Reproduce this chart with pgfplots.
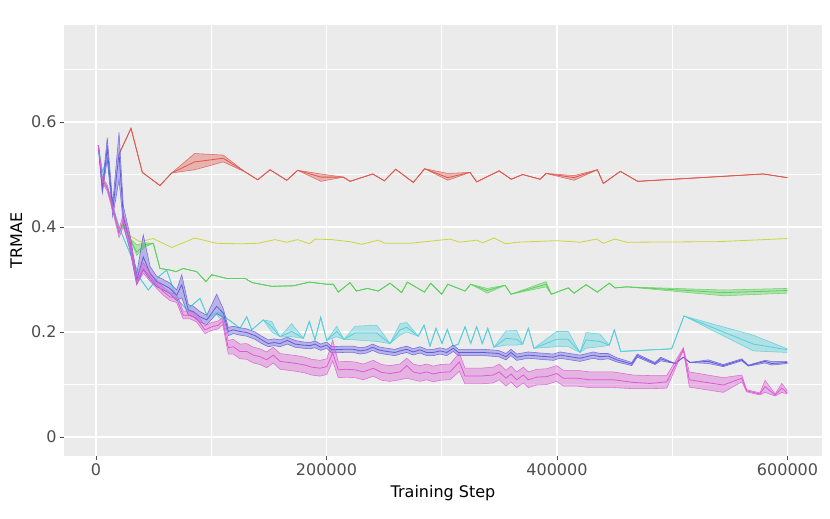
\documentclass[border=0pt]{standalone}
\usepackage{pgfplots}
\pgfplotsset{compat=1.18}
\usepackage{pgfplotstable}
\usepgfplotslibrary{fillbetween}
\usepackage{fontspec}
\setmainfont{DejaVu Sans}
\definecolor{cred}{RGB}{222,88,78}
\definecolor{cyel}{RGB}{202,214,60}
\definecolor{cgrn}{RGB}{90,210,90}
\definecolor{ccyn}{RGB}{85,207,220}
\definecolor{cblu}{RGB}{100,90,222}
\definecolor{cmag}{RGB}{220,90,212}
\definecolor{bgc}{RGB}{235,235,235}
\definecolor{tickc}{RGB}{77,77,77}

\pgfplotstableread{
x m lo hi
20200 0.540 0.540 0.540
30400 0.588 0.588 0.588
40200 0.504 0.504 0.504
55500 0.479 0.479 0.479
65700 0.503 0.503 0.503
85600 0.524 0.509 0.540
110400 0.531 0.524 0.537
129300 0.505 0.505 0.505
140300 0.490 0.490 0.490
151000 0.509 0.509 0.509
165500 0.489 0.489 0.489
175000 0.508 0.508 0.508
195200 0.495 0.487 0.501
214600 0.495 0.495 0.495
220400 0.487 0.487 0.487
240100 0.501 0.501 0.501
250200 0.488 0.488 0.488
260000 0.510 0.510 0.510
275300 0.485 0.485 0.485
285200 0.511 0.511 0.511
305200 0.494 0.489 0.502
324500 0.504 0.504 0.504
330300 0.486 0.486 0.486
349700 0.507 0.507 0.507
360300 0.491 0.491 0.491
370200 0.500 0.500 0.500
385300 0.491 0.491 0.491
390500 0.502 0.502 0.502
414800 0.494 0.489 0.498
435000 0.509 0.509 0.509
440200 0.483 0.483 0.483
454900 0.506 0.506 0.506
470000 0.487 0.487 0.487
579000 0.501 0.501 0.501
599800 0.494 0.494 0.494
}\tred

\pgfplotstableread{
x m
2000 0.556
5500 0.490
9800 0.475
14500 0.436
20000 0.390
23700 0.405
29500 0.383
38200 0.372
49700 0.378
65700 0.361
85600 0.379
104700 0.369
124900 0.368
140800 0.369
155300 0.376
165500 0.371
175000 0.376
185100 0.368
190300 0.377
204500 0.376
220400 0.372
230500 0.367
244900 0.375
250800 0.369
272500 0.369
307200 0.377
315800 0.371
330300 0.375
335500 0.370
345300 0.379
355500 0.368
365000 0.371
399700 0.374
419900 0.371
434400 0.377
440200 0.369
450300 0.377
460500 0.371
538600 0.372
599800 0.378
}\tyel

\pgfplotstableread{
x m lo hi
2000 0.556 0.556 0.556
5500 0.490 0.490 0.490
9800 0.475 0.475 0.475
14500 0.436 0.436 0.436
20000 0.390 0.390 0.390
23700 0.405 0.405 0.405
29500 0.378 0.378 0.378
35300 0.352 0.346 0.366
42500 0.366 0.362 0.370
49700 0.369 0.369 0.369
55500 0.321 0.321 0.321
64200 0.318 0.318 0.318
69400 0.315 0.315 0.315
75700 0.321 0.321 0.321
87400 0.315 0.315 0.315
95400 0.296 0.296 0.296
100400 0.309 0.309 0.309
113400 0.302 0.302 0.302
129300 0.302 0.302 0.302
135600 0.294 0.294 0.294
152500 0.287 0.287 0.287
171200 0.288 0.288 0.288
185100 0.295 0.295 0.295
200200 0.291 0.291 0.291
205900 0.291 0.291 0.291
210200 0.276 0.276 0.276
220400 0.294 0.294 0.294
225900 0.278 0.278 0.278
235400 0.283 0.283 0.283
244900 0.278 0.278 0.278
255100 0.293 0.293 0.293
265200 0.275 0.275 0.275
270100 0.295 0.295 0.295
284900 0.276 0.276 0.276
290400 0.293 0.293 0.293
300000 0.272 0.272 0.272
305200 0.291 0.291 0.291
320200 0.278 0.278 0.278
325100 0.291 0.291 0.291
339500 0.279 0.274 0.283
354900 0.289 0.289 0.289
360100 0.272 0.272 0.272
390500 0.291 0.286 0.296
395100 0.272 0.272 0.272
409800 0.284 0.284 0.284
414800 0.274 0.274 0.274
425200 0.290 0.290 0.290
435000 0.276 0.276 0.276
445400 0.293 0.293 0.293
450300 0.284 0.284 0.284
460500 0.286 0.286 0.286
544300 0.275 0.269 0.280
599800 0.279 0.274 0.283
}\tgrn

\pgfplotstableread{
x m lo hi
2000 0.556 0.556 0.556
5500 0.505 0.505 0.505
9800 0.530 0.530 0.530
14500 0.440 0.440 0.440
20000 0.400 0.400 0.400
23700 0.380 0.380 0.380
29500 0.350 0.350 0.350
35300 0.320 0.320 0.320
38200 0.302 0.302 0.302
45400 0.280 0.280 0.280
54100 0.305 0.305 0.305
61300 0.318 0.318 0.318
70000 0.264 0.264 0.264
78700 0.242 0.242 0.242
90200 0.264 0.264 0.264
97400 0.226 0.226 0.226
103300 0.236 0.236 0.236
109100 0.231 0.223 0.239
113400 0.226 0.226 0.226
119100 0.217 0.217 0.217
124900 0.207 0.207 0.207
130800 0.229 0.229 0.229
135100 0.204 0.204 0.204
145200 0.223 0.223 0.223
152500 0.210 0.200 0.220
159700 0.191 0.191 0.191
169800 0.201 0.191 0.216
179900 0.188 0.188 0.188
185100 0.220 0.220 0.220
190000 0.185 0.185 0.185
195000 0.228 0.228 0.228
200200 0.184 0.184 0.184
208900 0.201 0.191 0.211
215200 0.186 0.186 0.186
224700 0.198 0.185 0.211
243600 0.198 0.182 0.213
255100 0.178 0.178 0.178
263800 0.204 0.194 0.216
269600 0.209 0.200 0.218
279700 0.192 0.192 0.192
284600 0.213 0.213 0.213
289800 0.173 0.173 0.173
295000 0.207 0.207 0.207
300200 0.178 0.178 0.178
304800 0.205 0.205 0.205
310000 0.173 0.173 0.173
314400 0.177 0.177 0.177
320200 0.210 0.210 0.210
325100 0.178 0.178 0.178
330300 0.210 0.210 0.210
335200 0.178 0.178 0.178
339900 0.207 0.207 0.207
345300 0.171 0.171 0.171
355700 0.188 0.175 0.202
365000 0.186 0.175 0.203
370200 0.177 0.177 0.177
375100 0.207 0.207 0.207
380000 0.169 0.169 0.169
399700 0.186 0.172 0.201
409800 0.186 0.172 0.201
420000 0.161 0.161 0.161
425200 0.185 0.169 0.199
437300 0.182 0.172 0.196
445400 0.175 0.175 0.175
449700 0.204 0.204 0.204
455300 0.163 0.163 0.163
499500 0.168 0.168 0.168
510200 0.2305 0.2305 0.2305
570300 0.177 0.164 0.194
599800 0.166 0.161 0.168
}\tcyn

\pgfplotstableread{
x m lo hi
2000 0.556 0.556 0.556
5500 0.470 0.465 0.478
9800 0.550 0.530 0.570
14500 0.432 0.420 0.445
20000 0.540 0.490 0.580
23700 0.420 0.405 0.440
29500 0.370 0.355 0.385
35300 0.299 0.290 0.310
41000 0.343 0.318 0.385
46900 0.312 0.300 0.325
52700 0.296 0.286 0.306
58400 0.290 0.280 0.300
64200 0.283 0.273 0.293
70000 0.270 0.260 0.280
74400 0.290 0.265 0.309
80100 0.242 0.232 0.252
84400 0.239 0.229 0.249
90200 0.229 0.219 0.239
96100 0.223 0.214 0.232
104700 0.249 0.235 0.272
110500 0.236 0.228 0.244
114800 0.201 0.193 0.209
119100 0.204 0.197 0.211
124900 0.201 0.194 0.208
130800 0.199 0.192 0.206
138000 0.193 0.186 0.200
143800 0.185 0.178 0.192
149500 0.178 0.172 0.185
154400 0.180 0.174 0.187
159700 0.178 0.172 0.185
166000 0.184 0.177 0.190
172700 0.177 0.171 0.184
179900 0.175 0.169 0.181
185700 0.174 0.168 0.180
190000 0.177 0.170 0.183
195000 0.171 0.165 0.177
200200 0.175 0.169 0.181
204500 0.166 0.160 0.172
214600 0.167 0.161 0.173
223300 0.167 0.161 0.173
229100 0.164 0.158 0.170
234900 0.166 0.160 0.172
240100 0.171 0.165 0.177
245000 0.166 0.160 0.172
252200 0.163 0.157 0.169
259400 0.161 0.155 0.167
263800 0.164 0.158 0.170
269600 0.167 0.161 0.173
275300 0.162 0.156 0.168
281100 0.166 0.160 0.172
286900 0.161 0.155 0.167
292700 0.161 0.155 0.167
298500 0.164 0.158 0.170
304300 0.161 0.155 0.167
310000 0.169 0.163 0.175
314400 0.161 0.155 0.167
324500 0.161 0.155 0.167
336100 0.161 0.155 0.167
349100 0.159 0.153 0.165
355700 0.153 0.147 0.159
360100 0.161 0.155 0.167
365000 0.152 0.146 0.158
375100 0.156 0.150 0.162
385300 0.154 0.148 0.160
396800 0.152 0.146 0.158
402600 0.156 0.150 0.162
408400 0.154 0.148 0.160
420000 0.150 0.144 0.156
431500 0.156 0.150 0.162
437300 0.153 0.147 0.159
444500 0.154 0.149 0.159
451800 0.147 0.143 0.151
464800 0.139 0.136 0.142
469700 0.155 0.152 0.158
485000 0.140 0.138 0.142
490000 0.149 0.145 0.152
502400 0.140 0.140 0.140
509600 0.152 0.152 0.152
515400 0.142 0.142 0.142
531300 0.144 0.140 0.147
544300 0.136 0.134 0.138
560300 0.147 0.145 0.149
566000 0.136 0.135 0.137
580500 0.144 0.141 0.146
586300 0.140 0.137 0.144
599800 0.142 0.140 0.144
}\tblu

\pgfplotstableread{
x m lo hi
2000 0.556 0.556 0.556
5500 0.490 0.485 0.495
9800 0.474 0.468 0.480
14500 0.436 0.430 0.442
20000 0.388 0.380 0.396
23700 0.413 0.400 0.425
29500 0.370 0.360 0.380
35300 0.296 0.290 0.305
41000 0.321 0.312 0.332
46900 0.305 0.297 0.313
52700 0.290 0.283 0.298
58400 0.277 0.270 0.285
64200 0.267 0.260 0.275
70000 0.264 0.256 0.272
75700 0.232 0.225 0.240
81600 0.232 0.225 0.240
87400 0.226 0.219 0.234
94600 0.204 0.197 0.212
100400 0.210 0.203 0.218
106100 0.213 0.206 0.221
110000 0.221 0.214 0.228
114800 0.170 0.158 0.184
119100 0.172 0.158 0.186
124900 0.163 0.149 0.177
130800 0.163 0.148 0.178
136500 0.156 0.141 0.171
142300 0.153 0.138 0.168
148100 0.147 0.132 0.162
153800 0.156 0.141 0.171
159700 0.144 0.129 0.159
166900 0.142 0.127 0.157
174100 0.140 0.125 0.155
181300 0.137 0.122 0.152
187200 0.133 0.118 0.148
194400 0.131 0.116 0.146
200200 0.134 0.119 0.149
205400 0.160 0.145 0.185
210200 0.128 0.113 0.143
217500 0.129 0.114 0.144
224700 0.128 0.113 0.143
231900 0.124 0.109 0.139
240600 0.131 0.116 0.146
247900 0.123 0.108 0.138
255100 0.121 0.106 0.136
263800 0.124 0.109 0.139
269600 0.136 0.112 0.150
275300 0.124 0.109 0.139
281100 0.121 0.106 0.136
286900 0.124 0.109 0.139
292700 0.120 0.105 0.135
298500 0.123 0.108 0.138
307200 0.124 0.109 0.139
315200 0.143 0.125 0.160
320200 0.116 0.101 0.131
333200 0.116 0.101 0.131
344700 0.118 0.103 0.133
349900 0.124 0.109 0.139
355700 0.112 0.097 0.127
360100 0.120 0.105 0.135
365000 0.109 0.094 0.124
370800 0.118 0.103 0.133
375100 0.109 0.094 0.124
382400 0.114 0.099 0.129
391100 0.115 0.100 0.130
399700 0.121 0.106 0.136
405500 0.112 0.097 0.127
417100 0.112 0.097 0.127
428600 0.109 0.094 0.124
437300 0.109 0.094 0.124
448900 0.109 0.094 0.124
466200 0.104 0.092 0.118
480700 0.102 0.092 0.117
495200 0.105 0.093 0.117
509600 0.167 0.165 0.170
514800 0.109 0.095 0.124
544300 0.099 0.085 0.113
560300 0.112 0.105 0.118
564600 0.088 0.086 0.090
576100 0.082 0.080 0.084
580500 0.096 0.085 0.108
589200 0.080 0.078 0.082
595000 0.093 0.085 0.102
599800 0.084 0.082 0.088
}\tmag

\newcommand{\band}[3]{%
  \addplot[draw=none, forget plot, name path=#1u] table[x=x,y=hi]{#2};
  \addplot[draw=none, forget plot, name path=#1l] table[x=x,y=lo]{#2};
  \addplot[fill=#3, fill opacity=0.38, draw=none, forget plot] fill between[of=#1u and #1l];
  \addplot[#3, line width=0.55pt, opacity=0.85, forget plot] table[x=x,y=hi]{#2};
  \addplot[#3, line width=0.55pt, opacity=0.85, forget plot] table[x=x,y=lo]{#2};
  \addplot[#3, line width=0.8pt, forget plot] table[x=x,y=m]{#2};
}

\begin{document}
\begin{tikzpicture}
\begin{axis}[
  scale only axis, width=758pt, height=431pt,
  xmin=-27766, xmax=629935, ymin=-0.0362, ymax=0.7848,
  scaled x ticks=false, scaled y ticks=false,
  xtick={0,200000,400000,600000}, xticklabels={0,200000,400000,600000},
  minor xtick={100000,300000,500000},
  ytick={0,0.2,0.4,0.6}, yticklabels={0,0.2,0.4,0.6},
  minor ytick={0.1,0.3,0.5,0.7},
  grid=both,
  major grid style={white, line width=1.1pt},
  minor grid style={white, line width=0.55pt},
  axis background/.style={fill=bgc},
  axis line style={draw=none},
  tick align=outside, tick pos=left,
  major tick length=4pt, minor tick length=0pt,
  tick style={color=tickc, line width=0.8pt},
  ticklabel style={font=\fontsize{16}{19}\selectfont, text=tickc},
  xlabel={Training Step}, ylabel={TRMAE},
  label style={font=\fontsize{16}{19}\selectfont},
  xlabel style={at={(axis description cs:0.5,-0.086)}, anchor=center},
  ylabel style={at={(axis description cs:-0.063,0.5)}, anchor=center},
]
\band{r}{\tred}{cred}
\addplot[cyel, line width=0.8pt, forget plot] table[x=x,y=m]{\tyel};
\band{g}{\tgrn}{cgrn}
\band{c}{\tcyn}{ccyn}
\band{b}{\tblu}{cblu}
\band{m}{\tmag}{cmag}
\end{axis}
\pgfresetboundingbox
\useasboundingbox (-64pt,-63pt) rectangle (766pt,456pt);
\end{tikzpicture}
\end{document}
